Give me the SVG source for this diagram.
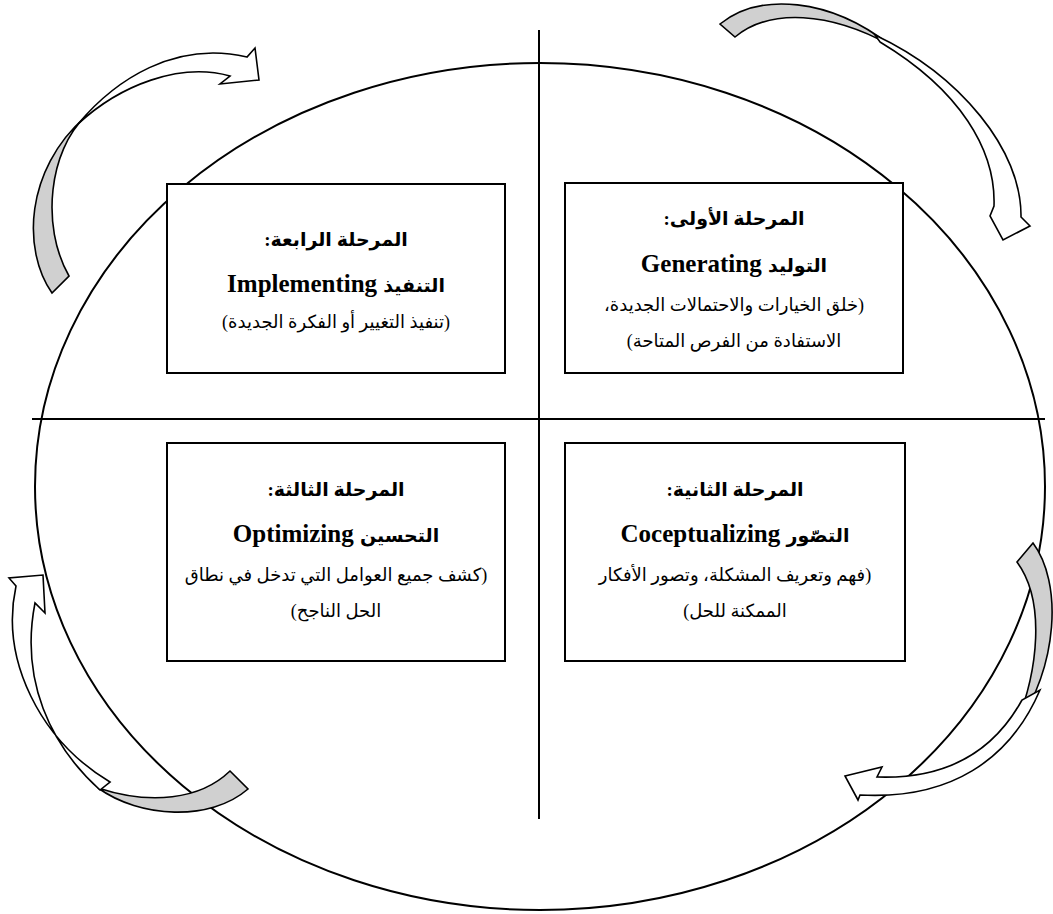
<svg xmlns="http://www.w3.org/2000/svg" width="1053" height="914" viewBox="0 0 1053 914">
<style>
.bg{fill:#fff}
.frame{fill:none;stroke:#000;stroke-width:2}
.box{fill:#fff;stroke:#000;stroke-width:2}
.back{fill:#d0d0d0;stroke:#000;stroke-width:1.6;stroke-linejoin:miter}
.front{fill:#fff;stroke:#000;stroke-width:1.6;stroke-linejoin:miter}
text{font-family:"Liberation Serif","DejaVu Sans",serif;fill:#000;text-anchor:middle;direction:rtl}
.t1{font-size:19px;font-weight:bold}
.t2{font-size:25px;font-weight:bold}
.ar{font-size:19px}
.t3{font-size:18px}
</style>
<rect class="bg" x="0" y="0" width="1053" height="914"/>
<g id="frame">
<ellipse class="frame" cx="540" cy="486.5" rx="505" ry="423.5"/>
<line class="frame" x1="539" y1="30" x2="539" y2="819"/>
<line class="frame" x1="32" y1="419" x2="1045" y2="419"/>
</g>
<g id="connectors">
<g id="arrow-tl">
<path class="back" d="M52,293 C22,250 25,170 85,117 C50,150 40,225 69,276 Z"/>
<path class="front" d="M78,124 C115,80 175,40 247,57 L255,48 L259,80 L220,84 L230,76 C180,62 120,85 78,124 Z"/>
</g>
<g id="arrow-tr">
<path class="back" d="M720,24 C760,-8 830,-2 890,45 C830,12 770,8 735,37 Z"/>
<path class="front" d="M875,35 C960,75 1022,150 1021,217 L1030,226 L1003,240 L990,216 L994,206 C996,150 960,90 880,42 Z"/>
</g>
<g id="arrow-br">
<path class="back" d="M1017,562 L1033,543 C1062,582 1060,665 1013,732 C1040,670 1045,600 1017,562 Z"/>
<path class="front" d="M1040,690 C1010,760 950,800 860,795 L858,800 L845,776 L882,767 L877,777 C960,780 1000,740 1022,700 Z"/>
</g>
<g id="arrow-bl">
<path class="back" d="M230,771 L248,789 C210,822 140,818 98,788 C150,805 200,800 230,771 Z"/>
<path class="front" d="M110,782 C40,740 0,660 16,586 L9,578 L43,575 L45,613 L35,603 C20,680 50,745 100,790 Z"/>
</g>
</g>
<g id="node-stage4">
<rect class="box" x="167" y="184" width="338" height="189"/>
<text class="t1" x="336" y="246">المرحلة الرابعة:</text>
<text class="t2" x="336" y="292"><tspan class="ar">التنفيذ</tspan> Implementing</text>
<text class="t3" x="336" y="328">(تنفيذ التغيير أو الفكرة الجديدة)</text>
</g>
<g id="node-stage1">
<rect class="box" x="565" y="183" width="338" height="190"/>
<text class="t1" x="734" y="225">المرحلة الأولى:</text>
<text class="t2" x="734" y="272"><tspan class="ar">التوليد</tspan> Generating</text>
<text class="t3" x="734" y="311">(خلق الخيارات والاحتمالات الجديدة،</text>
<text class="t3" x="734" y="347">الاستفادة من الفرص المتاحة)</text>
</g>
<g id="node-stage3">
<rect class="box" x="167" y="443" width="338" height="218"/>
<text class="t1" x="336" y="496">المرحلة الثالثة:</text>
<text class="t2" x="336" y="542"><tspan class="ar">التحسين</tspan> Optimizing</text>
<text class="t3" x="336" y="581">(كشف جميع العوامل التي تدخل في نطاق</text>
<text class="t3" x="336" y="617">الحل الناجح)</text>
</g>
<g id="node-stage2">
<rect class="box" x="565" y="443" width="340" height="218"/>
<text class="t1" x="735" y="496">المرحلة الثانية:</text>
<text class="t2" x="735" y="542"><tspan class="ar">التصّور</tspan> Coceptualizing</text>
<text class="t3" x="735" y="581">(فهم وتعريف المشكلة، وتصور الأفكار</text>
<text class="t3" x="735" y="617">الممكنة للحل)</text>
</g>
</svg>
